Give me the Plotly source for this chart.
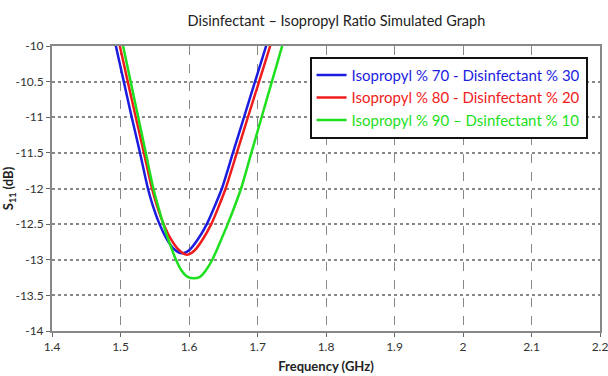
import plotly.graph_objects as go

# Frequency (GHz) and S11 (dB)
freq_70 = [1.4816, 1.4932, 1.5048, 1.5164, 1.5285, 1.540, 1.5475, 1.557, 1.567, 1.578, 1.590,
           1.601, 1.6125, 1.626, 1.6375, 1.648, 1.6641, 1.6803, 1.6964, 1.7126, 1.7287]
s11_70 = [-9.5, -10, -10.5, -11, -11.5, -12, -12.25, -12.5, -12.7, -12.85, -12.91,
          -12.86, -12.72, -12.5, -12.25, -12, -11.5, -11, -10.5, -10, -9.5]

freq_80 = [1.4874, 1.499, 1.5106, 1.5223, 1.5342, 1.546, 1.5535, 1.563, 1.573, 1.584, 1.597,
           1.608, 1.619, 1.6325, 1.6435, 1.6535, 1.6698, 1.686, 1.7023, 1.7185, 1.7348]
s11_80 = [-9.5, -10, -10.5, -11, -11.5, -12, -12.25, -12.5, -12.7, -12.85, -12.93,
          -12.87, -12.73, -12.5, -12.25, -12, -11.5, -11, -10.5, -10, -9.5]

freq_90 = [1.4928, 1.5038, 1.5148, 1.5259, 1.5369, 1.548, 1.5625, 1.571, 1.581, 1.589, 1.598, 1.607,
           1.616, 1.6245, 1.634, 1.6455, 1.6565, 1.676, 1.691, 1.706, 1.721, 1.736, 1.751]
s11_90 = [-9.5, -10, -10.5, -11, -11.5, -12, -12.5, -12.75, -13, -13.15, -13.24, -13.26,
          -13.24, -13.15, -13, -12.75, -12.5, -12, -11.5, -11, -10.5, -10, -9.5]

names = [
    "Isopropyl % 70 - Disinfectant % 30",
    "Isopropyl % 80 - Disinfectant % 20",
    "Isopropyl % 90 \u2013 Dsinfectant % 10",
]
colors = ["#1c1ce0", "#f01c1c", "#1ee01e"]

x_ticks = [1.4, 1.5, 1.6, 1.7, 1.8, 1.9, 2, 2.1, 2.2]
x_ticklabels = ["1.4", "1.5", "1.6", "1.7", "1.8", "1.9", "2", "2.1", "2.2"]
y_ticks = [-14, -13.5, -13, -12.5, -12, -11.5, -11, -10.5, -10]
y_ticklabels = ["-14", "-13.5", "-13", "-12.5", "-12", "-11.5", "-11", "-10.5", "-10"]

FONT = "Lato, Open Sans, sans-serif"

fig = go.Figure()
for fx, sy, nm, c in zip([freq_70, freq_80, freq_90], [s11_70, s11_80, s11_90], names, colors):
    fig.add_trace(go.Scatter(
        x=fx, y=sy, mode="lines", line=dict(color=c, width=2.5, shape="spline", smoothing=0.8),
        name=f"<span style='color:{c}'>{nm}</span>",
    ))

fig.update_layout(
    width=608, height=376,
    margin=dict(l=52, r=8, t=46, b=45),
    paper_bgcolor="white", plot_bgcolor="white",
    title=dict(text="Disinfectant \u2013 Isopropyl Ratio Simulated Graph",
               x=0.519, xref="paper", xanchor="center", y=0.945, yanchor="middle",
               font=dict(family=FONT, size=14.5, color="#222")),
    font=dict(family=FONT, color="#333"),
    showlegend=True,
    legend=dict(x=0.47, y=0.962, xanchor="left", yanchor="top",
                bgcolor="white", bordercolor="#111", borderwidth=2,
                font=dict(family=FONT, size=15), tracegroupgap=0,
                itemwidth=30),
    xaxis=dict(range=[1.4, 2.2], tickvals=x_ticks, ticktext=x_ticklabels,
               showgrid=True, gridcolor="#888", griddash="dash", gridwidth=1,
               showline=True, linecolor="#888", linewidth=2, mirror=True,
               ticks="outside", ticklen=4, tickcolor="#666", automargin=False,
               ticklabeloverflow="allow",
               tickfont=dict(family=FONT, size=12, color="#333"),
               title=dict(text="<b>Frequency (GHz)</b>", standoff=8,
                          font=dict(family=FONT, size=13, color="#222")),
               zeroline=False),
    yaxis=dict(range=[-14, -10], tickvals=y_ticks, ticktext=y_ticklabels,
               showgrid=True, gridcolor="#888", griddash="dot", gridwidth=1.5,
               showline=True, linecolor="#888", linewidth=2, mirror=True,
               ticks="outside", ticklen=4, tickcolor="#666", automargin=False,
               tickfont=dict(family=FONT, size=12, color="#333"),
               title=dict(text="<b>S<sub>11</sub> (dB)</b>", standoff=0,
                          font=dict(family=FONT, size=13, color="#222")),
               zeroline=False),
)

fig.write_html("out.html")
